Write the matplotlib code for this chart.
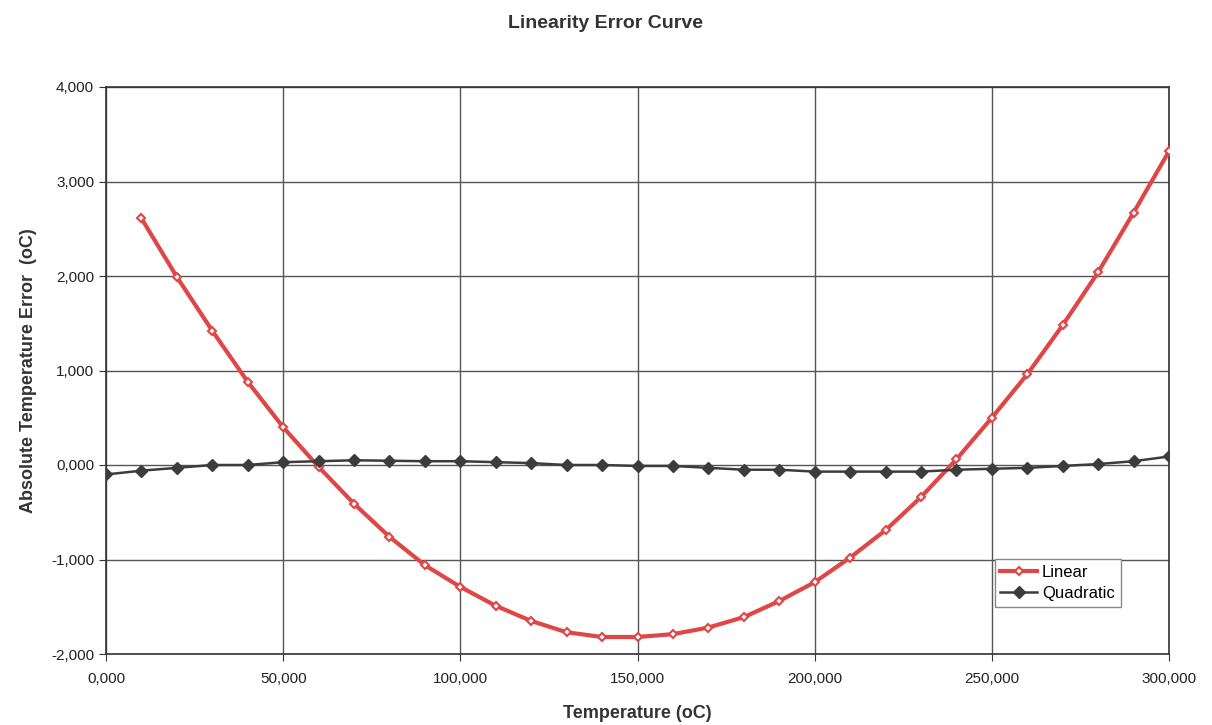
"""
    Linearity Error Curve
"""
import matplotlib.pyplot as plt
from matplotlib.ticker import FuncFormatter

plt.rcParams['font.family'] = ['Liberation Sans', 'DejaVu Sans']

# 温度点
temp_linear = [10, 20, 30, 40, 50, 60, 70, 80, 90, 100, 110, 120, 130, 140, 150,
               160, 170, 180, 190, 200, 210, 220, 230, 240, 250, 260, 270, 280, 290, 300]
err_linear = [2.61, 1.99, 1.42, 0.88, 0.40, -0.02, -0.41, -0.76, -1.06, -1.29,
              -1.49, -1.65, -1.77, -1.82, -1.82, -1.79, -1.72, -1.61, -1.44, -1.24,
              -0.98, -0.69, -0.34, 0.06, 0.50, 0.96, 1.48, 2.04, 2.67, 3.32]

temp_quad = [0, 10, 20, 30, 40, 50, 60, 70, 80, 90, 100, 110, 120, 130, 140, 150,
             160, 170, 180, 190, 200, 210, 220, 230, 240, 250, 260, 270, 280, 290, 300]
err_quad = [-0.10, -0.06, -0.03, 0.00, 0.00, 0.03, 0.04, 0.05, 0.045, 0.04, 0.04,
            0.03, 0.02, 0.00, 0.00, -0.01, -0.01, -0.03, -0.05, -0.05, -0.07, -0.07,
            -0.07, -0.07, -0.05, -0.04, -0.03, -0.01, 0.01, 0.04, 0.09]

x_ticks = [0, 50, 100, 150, 200, 250, 300]
y_ticks = [-2, -1, 0, 1, 2, 3, 4]


def comma_fmt(v, pos):
    return '{:.3f}'.format(v).replace('.', ',')


fig = plt.figure(figsize=(12.12, 7.25), dpi=100)
ax = fig.add_axes([106 / 1212, 1 - 654 / 725, (1169 - 106) / 1212, (654 - 87) / 725])

ax.plot(temp_linear, err_linear, color='#e04646', lw=3, marker='D', ms=4.5,
        mfc='white', mec='#e04646', mew=1.5, label='Linear', zorder=3)
ax.plot(temp_quad, err_quad, color='#3c3c3c', lw=1.8, marker='D', ms=6,
        mfc='#3c3c3c', mec='#3c3c3c', label='Quadratic', zorder=4)

ax.set_xlim(0, 300)
ax.set_ylim(-2, 4)
ax.set_xticks(x_ticks)
ax.set_yticks(y_ticks)
ax.xaxis.set_major_formatter(FuncFormatter(comma_fmt))
ax.yaxis.set_major_formatter(FuncFormatter(comma_fmt))
ax.tick_params(labelsize=11, length=5, color='#333333', labelcolor='#222222')
ax.tick_params(axis='x', pad=8)
ax.grid(True, color='#555555', lw=1)
ax.set_axisbelow(True)
for s in ax.spines.values():
    s.set_color('#333333')
    s.set_linewidth(1.2)

ax.set_xlabel('Temperature (oC)', fontsize=13, fontweight='bold', color='#333333', labelpad=14)
ax.set_ylabel('Absolute Temperature Error  (oC)', fontsize=13, fontweight='bold',
              color='#333333', labelpad=10)
fig.text(0.5, 1 - 23 / 725, 'Linearity Error Curve', ha='center', va='center',
         fontsize=14, fontweight='bold', color='#333333')

leg = ax.legend(loc='lower right', bbox_to_anchor=(1129 / 1212, 1 - 615 / 725),
                bbox_transform=fig.transFigure, fontsize=12, fancybox=False,
                framealpha=1, edgecolor='#888888', handlelength=2.2,
                borderpad=0.35, labelspacing=0.35, handletextpad=0.3)

plt.savefig('out.png')
